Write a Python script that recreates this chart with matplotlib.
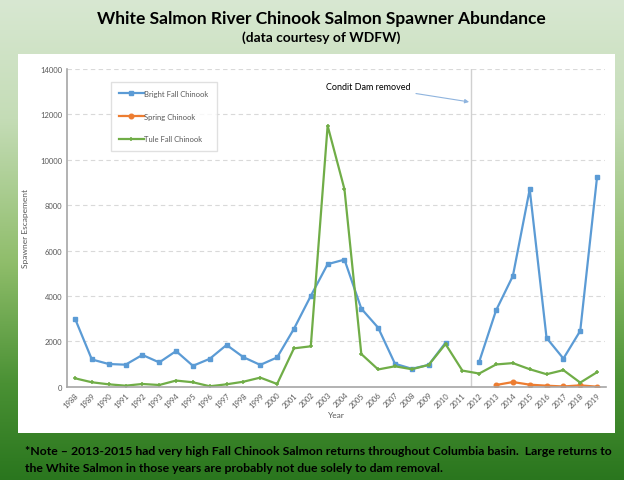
import numpy as np
import matplotlib
matplotlib.use("Agg")
import matplotlib.pyplot as plt
from matplotlib.colors import LinearSegmentedColormap
from matplotlib.patches import Rectangle

years = list(range(1988, 2020))
bright_fall = [3000, 1200, 1000, 970, 1400, 1070, 1570, 920, 1230, 1840, 1300, 960,
               1290, 2550, 4000, 5400, 5600, 3440, 2600, 1010, 790, 960, 1940, None,
               1100, 3360, 4880, 8700, 2150, 1240, 2460, 9250]
spring = [None] * 25 + [75, 205, 90, 45, 10, 60, 0]
tule_fall = [370, 195, 105, 45, 120, 75, 270, 195, 20, 105, 220, 400, 120, 1690,
             1780, 11500, 8700, 1440, 760, 900, 770, 960, 1880, 710, 580, 980, 1040,
             770, 550, 730, 180, 640]

def arr(v):
    return np.array([np.nan if x is None else x for x in v], dtype=float)

plt.rcParams['font.family'] = ['Lato', 'DejaVu Sans']

fig = plt.figure(figsize=(6.24, 4.81), dpi=100)

# background gradient
bg = fig.add_axes([0, 0, 1, 1], zorder=-10)
cmap = LinearSegmentedColormap.from_list(
    "bg", [(0.0, "#d8e8d2"), (0.25, "#c4dcb6"), (0.55, "#8fbd6a"), (0.8, "#4a9134"), (1.0, "#2a761e")])
grad = np.linspace(0, 1, 256).reshape(-1, 1)
bg.imshow(grad, aspect="auto", cmap=cmap, extent=[0, 1, 0, 1], origin="upper")
bg.set_xlim(0, 1)
bg.set_ylim(0, 1)
bg.axis("off")
bg.add_patch(Rectangle((17.5 / 624, 1 - 434 / 481), (615 - 17.5) / 624, (434 - 54.5) / 481,
                       facecolor="white", edgecolor="none"))

fig.text(0.515, 0.961, "White Salmon River Chinook Salmon Spawner Abundance",
         ha="center", va="center", fontsize=12.5, fontweight="bold", color="black")
fig.text(0.514, 0.921, "(data courtesy of WDFW)", ha="center", va="center",
         fontsize=9.9, fontweight="bold", color="black")
fig.text(0.04, 0.062, "*Note \u2013 2013-2015 had very high Fall Chinook Salmon returns throughout Columbia basin.  Large returns to",
         ha="left", va="center", fontsize=8.85, fontweight="bold", color="black")
fig.text(0.04, 0.027, "the White Salmon in those years are probably not due solely to dam removal.",
         ha="left", va="center", fontsize=8.85, fontweight="bold", color="black")

ax = fig.add_axes([66.6 / 624, 93.3 / 481, (605.5 - 66.6) / 624, (387.7 - 70) / 481])
ax.set_facecolor("white")

x = np.array(years)
ax.plot(x, arr(bright_fall), color="#5b9bd5", lw=1.6, marker="s", ms=3.3, label="Bright Fall Chinook")
ax.plot(x, arr(spring), color="#ed7d31", lw=1.6, marker="o", ms=3.3, label="Spring Chinook")
ax.plot(x, arr(tule_fall), color="#70ad47", lw=1.6, marker="+", ms=3.5, mew=1.1, label="Tule Fall Chinook")

ax.set_xlim(1987.5, 2019.5)
ax.set_ylim(0, 14000)
ax.set_yticks(range(0, 14001, 2000))
ax.set_xticks(years)
ax.set_xticklabels([str(y) for y in years], rotation=45, ha="right", rotation_mode="anchor")
ax.tick_params(axis="both", length=0, labelsize=5.5, labelcolor="#595959", pad=3)
ax.grid(axis="y", color="#d9d9d9", ls=(0, (4, 3)), lw=0.8)
ax.set_axisbelow(True)
for s in ["top", "right"]:
    ax.spines[s].set_visible(False)
ax.spines["left"].set_color("#a6a6a6")
ax.spines["bottom"].set_color("#a6a6a6")
ax.spines["left"].set_linewidth(1.2)
ax.spines["bottom"].set_linewidth(1.2)

ax.axvline(2011.5, color="#d0d0d0", lw=1, zorder=0.5)

ax.set_ylabel("Spawner Escapement", fontsize=6, color="#595959", labelpad=8)
ax.set_xlabel("Year", fontsize=6, color="#595959", labelpad=2)

ax.annotate("Condit Dam removed", xy=(2011.4, 12550), xytext=(2002.9, 13250),
            fontsize=6.5, color="black", va="center", ha="left",
            arrowprops=dict(arrowstyle="-|>", color="#8fb4de", lw=0.8,
                            shrinkA=2, shrinkB=0, mutation_scale=6))

leg = ax.legend(loc="upper left", bbox_to_anchor=(0.082, 0.96), fontsize=5.5, frameon=True,
                labelspacing=2.05, handlelength=3.2, handletextpad=0.1, borderpad=1.1,
                borderaxespad=0, fancybox=False, edgecolor="#d9d9d9")
for t in leg.get_texts():
    t.set_color("#595959")

fig.savefig("out.png", dpi=100)
